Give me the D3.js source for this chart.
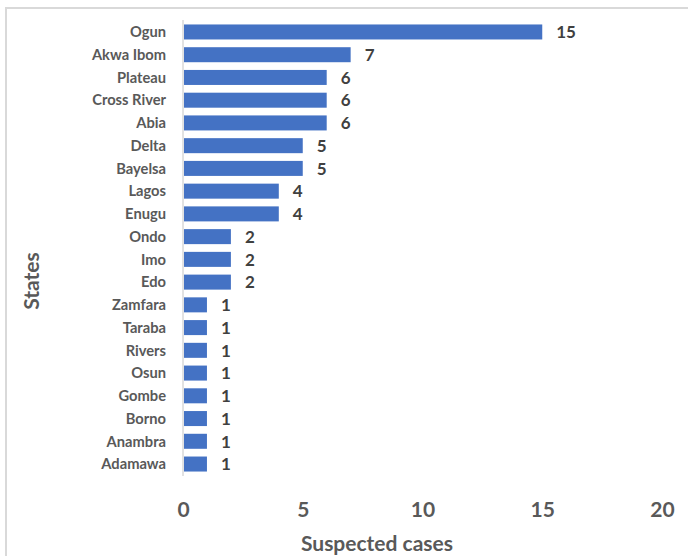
<!DOCTYPE html>
<html><head><meta charset="utf-8">
<script src="https://cdn.jsdelivr.net/npm/d3@7"></script>
<style>body{margin:0;background:#fff}svg{display:block}text{font-family:Lato,"Open Sans",sans-serif;font-weight:bold}</style>
</head><body>
<svg id="c" width="688" height="556"></svg>
<script>
const states = ["Ogun","Akwa Ibom","Plateau","Cross River","Abia","Delta","Bayelsa","Lagos","Enugu","Ondo","Imo","Edo","Zamfara","Taraba","Rivers","Osun","Gombe","Borno","Anambra","Adamawa"];
const cases = [15,7,6,6,6,5,5,4,4,2,2,2,1,1,1,1,1,1,1,1];
const xTicks = [0,5,10,15,20];

const svg = d3.select("#c");
svg.append("rect").attr("x",6).attr("y",8).attr("width",700).attr("height",600)
  .attr("fill","none").attr("stroke","#d9d9d9").attr("stroke-width",2);

const x = d3.scaleLinear().domain([0,20]).range([183,662]);
const y = d3.scaleBand().domain(states).range([20.6,475.4]).paddingInner(0.34).paddingOuter(0.17);

svg.selectAll("rect.bar").data(states).enter().append("rect").attr("class","bar")
  .attr("x",x(0)+1).attr("y",d=>y(d)).attr("height",y.bandwidth())
  .attr("width",(d,i)=>x(cases[i])-x(0)-1).attr("fill","#4472C4");

svg.append("line").attr("x1",x(0)).attr("x2",x(0)).attr("y1",20).attr("y2",476)
  .attr("stroke","#d9d9d9").attr("stroke-width",1.5);

svg.selectAll("text.cat").data(states).enter().append("text").attr("class","cat")
  .attr("x",166).attr("y",d=>y(d)+y.bandwidth()/2).attr("dy","0.36em")
  .attr("text-anchor","end").attr("font-size",14.7).attr("fill","#595959").text(d=>d);

svg.selectAll("text.val").data(states).enter().append("text").attr("class","val")
  .attr("x",(d,i)=>x(cases[i])+14).attr("y",d=>y(d)+y.bandwidth()/2).attr("dy","0.37em")
  .attr("font-size",17).attr("fill","#404040").text((d,i)=>cases[i]);

const xa = d3.axisBottom(x).tickValues(xTicks).tickSize(0).tickPadding(0);
const g = svg.append("g").attr("transform","translate(0,517)").call(xa);
g.select(".domain").remove();
g.selectAll("text").attr("font-size",21).attr("fill","#595959").attr("dy",0)
  .style("font-family","Lato,'Open Sans',sans-serif").style("font-weight","bold");

svg.append("text").attr("x",377).attr("y",551).attr("text-anchor","middle")
  .attr("font-size",21).attr("fill","#595959").text("Suspected cases");
svg.append("text").attr("transform","translate(39,281) rotate(-90)").attr("text-anchor","middle")
  .attr("font-size",21).attr("fill","#595959").text("States");
</script>
</body></html>
